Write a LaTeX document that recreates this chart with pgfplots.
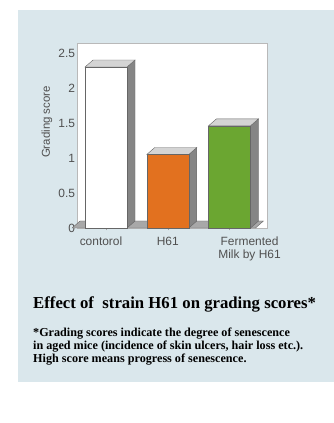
\documentclass[border=0pt]{standalone}
\usepackage{pgfplots}
\pgfplotsset{compat=1.18}
\usepackage{fontspec}
\setmainfont{Liberation Serif}
\newfontfamily\chartsans{Liberation Sans}

\definecolor{panel}{HTML}{DAE7EC}
\definecolor{barorange}{HTML}{E2711F}
\definecolor{bargreen}{HTML}{6BA631}
\definecolor{faceside}{HTML}{858585}
\definecolor{facetop}{HTML}{D4D4D4}
\definecolor{floorgray}{HTML}{A8A8A8}
\definecolor{labelgray}{HTML}{505050}
\definecolor{edge}{HTML}{666666}

\begin{document}
\begin{tikzpicture}[x=1bp,y=1bp]
% page and light panel
\path[use as bounding box, fill=white] (0,0) rectangle (334,423);
\fill[panel] (18,41) rectangle (334,413);

\begin{axis}[
  at={(77bp,195bp)}, anchor=south west,
  scale only axis, width=190bp, height=185bp,
  xmin=-0.47, xmax=2.607, ymin=0, ymax=2.643,
  clip=false,
  axis background/.style={fill=white},
  axis line style={draw=gray!55},
  xtick={0,1,2},
  xticklabels={{\makebox[0pt]{\hspace{-10bp}contorol}}, H61,
    {\makebox[0pt]{\hspace{40bp}\shortstack{Fermented\\[1bp]Milk by H61}}}},
  xtick align=outside,
  x tick style={draw=gray!70},
  ytick={0,0.5,1,1.5,2,2.5},
  y tick style={draw=none},
  major tick length=2.5bp,
  tick pos=left,
  /pgf/number format/assume math mode=true,
  ticklabel style={font=\chartsans\fontsize{12}{13}\selectfont, text=labelgray},
  xticklabel style={yshift=-3bp},
  yticklabel style={xshift=1.5bp},
]
% floor of the 3-D frame
\addplot[fill=floorgray, draw=edge, line width=0.4pt]
  coordinates {(-0.55,0) (-0.42,0.1) (2.55,0.1) (2.42,0)} -- cycle;

% control: 2.3
\addplot[fill=faceside, draw=edge, line width=0.4pt]
  coordinates {(0.34,0) (0.47,0.1) (0.47,2.4) (0.34,2.3)} -- cycle;
\addplot[fill=facetop, draw=edge, line width=0.4pt]
  coordinates {(-0.34,2.3) (-0.21,2.4) (0.47,2.4) (0.34,2.3)} -- cycle;
\addplot[ybar, bar width=0.68, fill=white, draw=edge, line width=0.4pt]
  coordinates {(0,2.3)};

% H61: 1.05
\addplot[fill=faceside, draw=edge, line width=0.4pt]
  coordinates {(1.34,0) (1.47,0.1) (1.47,1.15) (1.34,1.05)} -- cycle;
\addplot[fill=facetop, draw=edge, line width=0.4pt]
  coordinates {(0.66,1.05) (0.79,1.15) (1.47,1.15) (1.34,1.05)} -- cycle;
\addplot[ybar, bar width=0.68, fill=barorange, draw=edge, line width=0.4pt]
  coordinates {(1,1.05)};

% fermented milk by H61: 1.46
\addplot[fill=faceside, draw=edge, line width=0.4pt]
  coordinates {(2.34,0) (2.47,0.1) (2.47,1.56) (2.34,1.46)} -- cycle;
\addplot[fill=facetop, draw=edge, line width=0.4pt]
  coordinates {(1.66,1.46) (1.79,1.56) (2.47,1.56) (2.34,1.46)} -- cycle;
\addplot[ybar, bar width=0.68, fill=bargreen, draw=edge, line width=0.4pt]
  coordinates {(2,1.46)};
\end{axis}

\node[rotate=90, font=\chartsans\fontsize{11.5}{12}\selectfont, text=labelgray]
  at (47,301) {Grading score};

\node[anchor=west, inner sep=0pt, font=\bfseries\fontsize{16.8}{17}\selectfont]
  at (33,119) {Effect of\ \ strain H61 on grading scores*};

\node[anchor=north west, inner sep=0pt, align=left,
      font=\bfseries\fontsize{12.2}{12.8}\selectfont]
  at (33,95) {*Grading scores indicate the degree of senescence\\
  in aged mice (incidence of skin ulcers, hair loss etc.).\\
  High score means progress of senescence.};
\end{tikzpicture}
\end{document}
